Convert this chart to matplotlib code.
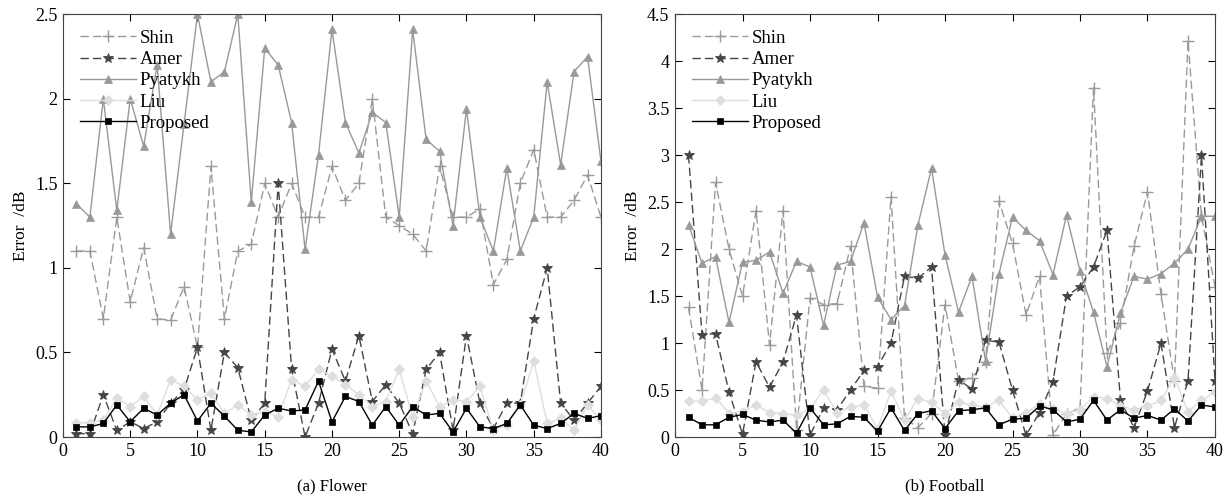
import matplotlib
matplotlib.use("Agg")
import matplotlib.pyplot as plt
import numpy as np

plt.rcParams['font.family'] = ['Liberation Serif', 'DejaVu Serif']
plt.rcParams['mathtext.fontset'] = 'stix'

frames = list(range(1, 41))
series_names = ["Shin", "Amer", "Pyatykh", "Liu", "Proposed"]

# (a) Flower
flower_shin = [1.10, 1.10, 0.70, 1.30, 0.80, 1.12, 0.70, 0.69, 0.89, 0.53,
               1.60, 0.70, 1.10, 1.14, 1.50, 1.30, 1.50, 1.30, 1.30, 1.60,
               1.40, 1.50, 2.00, 1.30, 1.25, 1.20, 1.10, 1.60, 1.30, 1.30,
               1.35, 0.90, 1.05, 1.50, 1.70, 1.30, 1.30, 1.40, 1.55, 1.30]
flower_amer = [0.02, 0.02, 0.25, 0.04, 0.09, 0.05, 0.09, 0.20, 0.28, 0.53,
               0.04, 0.50, 0.41, 0.10, 0.20, 1.50, 0.40, 0.00, 0.20, 0.52,
               0.33, 0.60, 0.21, 0.31, 0.20, 0.02, 0.40, 0.50, 0.04, 0.60,
               0.20, 0.05, 0.20, 0.20, 0.70, 1.00, 0.20, 0.10, 0.20, 0.30]
flower_pyatykh = [1.38, 1.30, 2.00, 1.34, 2.00, 1.72, 2.20, 1.20, 1.85, 2.50,
                  2.10, 2.16, 2.50, 1.39, 2.30, 2.20, 1.86, 1.11, 1.67, 2.41,
                  1.86, 1.68, 1.92, 1.86, 1.30, 2.41, 1.76, 1.69, 1.25, 1.94,
                  1.30, 1.10, 1.59, 1.10, 1.30, 2.10, 1.61, 2.16, 2.25, 1.63]
flower_liu = [0.085, 0.085, 0.10, 0.23, 0.18, 0.24, 0.13, 0.34, 0.30, 0.22,
              0.26, 0.14, 0.19, 0.13, 0.15, 0.12, 0.34, 0.30, 0.40, 0.36,
              0.31, 0.25, 0.18, 0.21, 0.40, 0.12, 0.33, 0.18, 0.22, 0.21,
              0.30, 0.04, 0.07, 0.19, 0.45, 0.08, 0.11, 0.04, 0.19, 0.10]
flower_proposed = [0.06, 0.06, 0.08, 0.19, 0.09, 0.17, 0.13, 0.20, 0.25, 0.095,
                   0.20, 0.124, 0.04, 0.03, 0.13, 0.17, 0.154, 0.16, 0.33, 0.09,
                   0.24, 0.21, 0.07, 0.18, 0.07, 0.18, 0.13, 0.14, 0.03, 0.17,
                   0.06, 0.05, 0.08, 0.19, 0.07, 0.05, 0.08, 0.14, 0.11, 0.126]

# (b) Football
football_shin = [1.38, 0.50, 2.71, 2.00, 1.50, 2.41, 0.98, 2.41, 0.08, 1.48,
                 1.41, 1.42, 2.03, 0.54, 0.52, 2.56, 0.20, 0.10, 0.25, 1.41,
                 0.60, 0.63, 0.80, 2.51, 2.06, 1.30, 1.71, 0.02, 0.25, 0.30,
                 3.72, 0.89, 1.21, 2.03, 2.61, 1.52, 0.60, 4.22, 2.35, 1.60]
football_amer = [3.00, 1.09, 1.10, 0.48, 0.03, 0.80, 0.53, 0.80, 1.30, 0.02,
                 0.31, 0.29, 0.50, 0.71, 0.75, 1.00, 1.71, 1.69, 1.81, 0.02,
                 0.61, 0.51, 1.03, 1.01, 0.50, 0.02, 0.26, 0.59, 1.50, 1.60,
                 1.81, 2.20, 0.39, 0.10, 0.49, 1.00, 0.10, 0.60, 3.00, 0.60]
football_pyatykh = [2.26, 1.85, 1.92, 1.22, 1.86, 1.88, 1.97, 1.53, 1.87, 1.81,
                    1.19, 1.83, 1.87, 2.28, 1.49, 1.25, 1.40, 2.26, 2.86, 1.94,
                    1.33, 1.71, 0.81, 1.74, 2.34, 2.20, 2.09, 1.73, 2.36, 1.77,
                    1.33, 0.75, 1.32, 1.71, 1.68, 1.74, 1.85, 2.00, 2.35, 2.35]
football_liu = [0.38, 0.38, 0.42, 0.25, 0.27, 0.34, 0.26, 0.25, 0.23, 0.30,
                0.50, 0.26, 0.32, 0.34, 0.09, 0.49, 0.18, 0.41, 0.37, 0.25,
                0.37, 0.34, 0.32, 0.39, 0.20, 0.26, 0.35, 0.30, 0.25, 0.29,
                0.43, 0.41, 0.33, 0.29, 0.33, 0.39, 0.63, 0.27, 0.39, 0.48]
football_proposed = [0.21, 0.13, 0.13, 0.21, 0.24, 0.18, 0.16, 0.18, 0.04, 0.31,
                     0.13, 0.14, 0.22, 0.21, 0.06, 0.31, 0.07, 0.25, 0.28, 0.09,
                     0.28, 0.29, 0.31, 0.13, 0.19, 0.20, 0.33, 0.29, 0.16, 0.19,
                     0.39, 0.18, 0.29, 0.20, 0.23, 0.18, 0.30, 0.17, 0.34, 0.32]

left_yticks = [0, 0.5, 1, 1.5, 2, 2.5]
right_yticks = [0, 0.5, 1, 1.5, 2, 2.5, 3, 3.5, 4, 4.5]
xticks = [0, 5, 10, 15, 20, 25, 30, 35, 40]
captions = ["(a) Flower", "(b) Football"]

styles = [
    dict(color="#9a9a9a", ls=(0, (6, 3)), marker="+", ms=8, mew=1.0),
    dict(color="#454545", ls=(0, (6, 3)), marker="*", ms=7, mew=0.6),
    dict(color="#999999", ls="-", marker="^", ms=6, mew=0.5),
    dict(color="#dedede", ls="-", marker="D", ms=5, mew=0.5),
    dict(color="#000000", ls="-", marker="s", ms=5, mew=0.5),
]

fig = plt.figure(figsize=(12.30, 5.01), dpi=100)
ax1 = fig.add_axes([0.0512, 0.1277, 0.4374, 0.8438])
ax2 = fig.add_axes([0.5488, 0.1277, 0.4390, 0.8438])

def fmt(v):
    return ("%g" % v)

panels = [
    (ax1, [flower_shin, flower_amer, flower_pyatykh, flower_liu, flower_proposed], left_yticks, 2.5),
    (ax2, [football_shin, football_amer, football_pyatykh, football_liu, football_proposed], right_yticks, 4.5),
]

for i, (ax, data, yt, ymax) in enumerate(panels):
    for name, vals, st in zip(series_names, data, styles):
        ax.plot(frames, vals, label=name, lw=1.0, color=st["color"], ls=st["ls"],
                marker=st["marker"], markersize=st["ms"], markeredgewidth=st["mew"],
                markerfacecolor=st["color"], markeredgecolor=st["color"])
    ax.set_xlim(0, 40)
    ax.set_ylim(0, ymax)
    ax.set_xticks(xticks)
    ax.set_xticklabels([str(t) for t in xticks])
    ax.set_yticks(yt)
    ax.set_yticklabels([fmt(t) for t in yt])
    ax.tick_params(direction="in", top=True, right=True, labelsize=13, length=5,
                   width=0.8, colors="#000000", pad=4)
    for sp in ax.spines.values():
        sp.set_linewidth(0.8)
        sp.set_color("#444444")
    ax.set_ylabel("Error  /dB", fontsize=12.5, labelpad=4)
    leg = ax.legend(loc="upper left", frameon=False, fontsize=13.5, handlelength=3.0,
                    handletextpad=0.2, labelspacing=0.22, borderaxespad=0.2,
                    bbox_to_anchor=(0.01, 0.99))
    ax.text(0.5, -0.098, captions[i], transform=ax.transAxes, ha="center", va="top",
            fontsize=12)

fig.savefig("out.png", dpi=100)
